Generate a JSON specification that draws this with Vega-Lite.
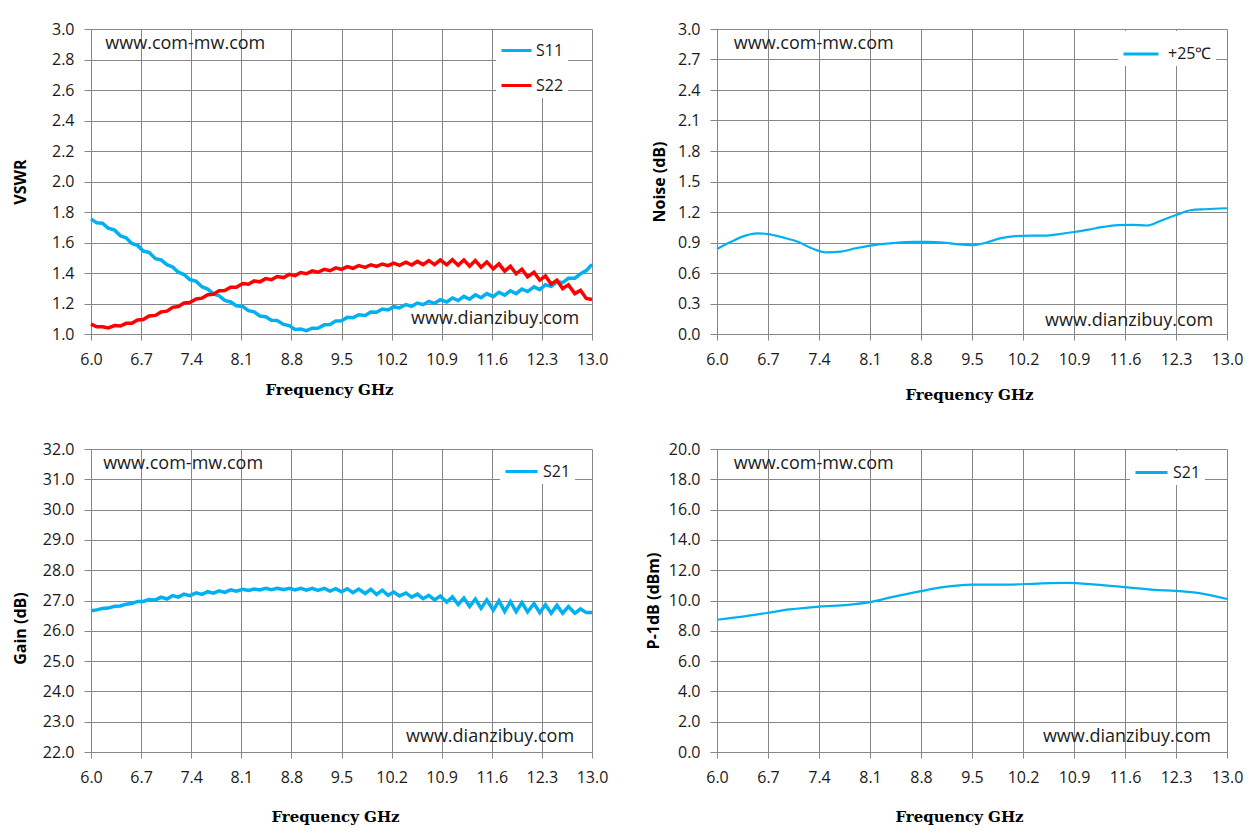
{
  "$schema": "https://vega.github.io/schema/vega-lite/v6.json",
  "background": "white",
  "padding": {"left": 12, "top": 21, "right": 10, "bottom": 10},
  "columns": 2,
  "bounds": "flush",
  "spacing": {"row": 115, "column": 125},
  "resolve": {"scale": {"color": "independent"}, "legend": {"color": "independent"}},
  "config": {
    "view": {"stroke": null},
    "axis": {
      "labelFont": "Open Sans",
      "labelFontSize": 16,
      "labelColor": "#1a1a1a",
      "labelFlush": false,
      "labelOverlap": false,
      "labelBound": false,
      "gridColor": "#878787",
      "gridOpacity": 1,
      "domainColor": "#878787",
      "tickColor": "#878787",
      "titleColor": "#000000",
      "titleBaseline": "middle"
    },
    "axisX": {"tickSize": 6, "labelPadding": 11, "titleFont": "DejaVu Serif", "titleFontWeight": "bold", "titleFontSize": 15},
    "axisY": {"tickSize": 7, "labelPadding": 10, "titleFont": "Open Sans", "titleFontWeight": "bold", "titleFontSize": 16},
    "legend": {
      "title": null,
      "orient": "none",
      "symbolType": "stroke",
      "symbolStrokeWidth": 3,
      "labelFont": "Open Sans",
      "labelFontSize": 16,
      "labelColor": "#1a1a1a",
      "padding": 4,
      "fillColor": "white"
    },
    "text": {"font": "Open Sans", "fontSize": 18, "color": "#1a1a1a", "baseline": "middle"}
  },
  "datasets": {
    "vswr": [
      {"freq": 6.00, "series": "S11", "value": 1.755}, {"freq": 6.08, "series": "S11", "value": 1.729},
      {"freq": 6.16, "series": "S11", "value": 1.726}, {"freq": 6.24, "series": "S11", "value": 1.694},
      {"freq": 6.33, "series": "S11", "value": 1.681}, {"freq": 6.41, "series": "S11", "value": 1.644},
      {"freq": 6.49, "series": "S11", "value": 1.631}, {"freq": 6.57, "series": "S11", "value": 1.594},
      {"freq": 6.65, "series": "S11", "value": 1.581}, {"freq": 6.73, "series": "S11", "value": 1.544},
      {"freq": 6.81, "series": "S11", "value": 1.536}, {"freq": 6.90, "series": "S11", "value": 1.494},
      {"freq": 6.98, "series": "S11", "value": 1.486}, {"freq": 7.06, "series": "S11", "value": 1.455},
      {"freq": 7.14, "series": "S11", "value": 1.440}, {"freq": 7.22, "series": "S11", "value": 1.405},
      {"freq": 7.30, "series": "S11", "value": 1.390}, {"freq": 7.38, "series": "S11", "value": 1.357},
      {"freq": 7.47, "series": "S11", "value": 1.345}, {"freq": 7.55, "series": "S11", "value": 1.310},
      {"freq": 7.63, "series": "S11", "value": 1.295}, {"freq": 7.71, "series": "S11", "value": 1.263},
      {"freq": 7.79, "series": "S11", "value": 1.250}, {"freq": 7.87, "series": "S11", "value": 1.220},
      {"freq": 7.95, "series": "S11", "value": 1.210}, {"freq": 8.03, "series": "S11", "value": 1.185},
      {"freq": 8.12, "series": "S11", "value": 1.180}, {"freq": 8.20, "series": "S11", "value": 1.153},
      {"freq": 8.28, "series": "S11", "value": 1.145}, {"freq": 8.36, "series": "S11", "value": 1.118},
      {"freq": 8.44, "series": "S11", "value": 1.113}, {"freq": 8.52, "series": "S11", "value": 1.090},
      {"freq": 8.60, "series": "S11", "value": 1.088}, {"freq": 8.69, "series": "S11", "value": 1.063},
      {"freq": 8.77, "series": "S11", "value": 1.055}, {"freq": 8.85, "series": "S11", "value": 1.030},
      {"freq": 8.93, "series": "S11", "value": 1.032}, {"freq": 9.01, "series": "S11", "value": 1.022},
      {"freq": 9.09, "series": "S11", "value": 1.038}, {"freq": 9.17, "series": "S11", "value": 1.038},
      {"freq": 9.26, "series": "S11", "value": 1.060}, {"freq": 9.34, "series": "S11", "value": 1.062},
      {"freq": 9.42, "series": "S11", "value": 1.086}, {"freq": 9.50, "series": "S11", "value": 1.087},
      {"freq": 9.58, "series": "S11", "value": 1.109}, {"freq": 9.66, "series": "S11", "value": 1.106},
      {"freq": 9.74, "series": "S11", "value": 1.126}, {"freq": 9.83, "series": "S11", "value": 1.122},
      {"freq": 9.91, "series": "S11", "value": 1.144}, {"freq": 9.99, "series": "S11", "value": 1.142},
      {"freq": 10.07, "series": "S11", "value": 1.164}, {"freq": 10.15, "series": "S11", "value": 1.158},
      {"freq": 10.23, "series": "S11", "value": 1.179}, {"freq": 10.31, "series": "S11", "value": 1.171},
      {"freq": 10.40, "series": "S11", "value": 1.193}, {"freq": 10.48, "series": "S11", "value": 1.182},
      {"freq": 10.56, "series": "S11", "value": 1.203}, {"freq": 10.64, "series": "S11", "value": 1.192},
      {"freq": 10.72, "series": "S11", "value": 1.214}, {"freq": 10.80, "series": "S11", "value": 1.201},
      {"freq": 10.88, "series": "S11", "value": 1.225}, {"freq": 10.97, "series": "S11", "value": 1.210},
      {"freq": 11.05, "series": "S11", "value": 1.236}, {"freq": 11.13, "series": "S11", "value": 1.219},
      {"freq": 11.21, "series": "S11", "value": 1.247}, {"freq": 11.29, "series": "S11", "value": 1.228},
      {"freq": 11.37, "series": "S11", "value": 1.257}, {"freq": 11.45, "series": "S11", "value": 1.238},
      {"freq": 11.53, "series": "S11", "value": 1.265}, {"freq": 11.62, "series": "S11", "value": 1.245},
      {"freq": 11.70, "series": "S11", "value": 1.274}, {"freq": 11.78, "series": "S11", "value": 1.255},
      {"freq": 11.86, "series": "S11", "value": 1.284}, {"freq": 11.94, "series": "S11", "value": 1.265},
      {"freq": 12.02, "series": "S11", "value": 1.295}, {"freq": 12.10, "series": "S11", "value": 1.278},
      {"freq": 12.19, "series": "S11", "value": 1.309}, {"freq": 12.27, "series": "S11", "value": 1.291},
      {"freq": 12.35, "series": "S11", "value": 1.323}, {"freq": 12.43, "series": "S11", "value": 1.312},
      {"freq": 12.51, "series": "S11", "value": 1.342}, {"freq": 12.59, "series": "S11", "value": 1.337},
      {"freq": 12.67, "series": "S11", "value": 1.365}, {"freq": 12.76, "series": "S11", "value": 1.366},
      {"freq": 12.84, "series": "S11", "value": 1.395}, {"freq": 12.92, "series": "S11", "value": 1.416},
      {"freq": 13.00, "series": "S11", "value": 1.457},
      {"freq": 6.00, "series": "S22", "value": 1.065}, {"freq": 6.08, "series": "S22", "value": 1.047},
      {"freq": 6.16, "series": "S22", "value": 1.048}, {"freq": 6.24, "series": "S22", "value": 1.040},
      {"freq": 6.33, "series": "S22", "value": 1.055}, {"freq": 6.41, "series": "S22", "value": 1.052},
      {"freq": 6.49, "series": "S22", "value": 1.070}, {"freq": 6.57, "series": "S22", "value": 1.070},
      {"freq": 6.65, "series": "S22", "value": 1.092}, {"freq": 6.73, "series": "S22", "value": 1.095},
      {"freq": 6.81, "series": "S22", "value": 1.118}, {"freq": 6.90, "series": "S22", "value": 1.122},
      {"freq": 6.98, "series": "S22", "value": 1.145}, {"freq": 7.06, "series": "S22", "value": 1.150},
      {"freq": 7.14, "series": "S22", "value": 1.175}, {"freq": 7.22, "series": "S22", "value": 1.180},
      {"freq": 7.30, "series": "S22", "value": 1.203}, {"freq": 7.38, "series": "S22", "value": 1.207},
      {"freq": 7.47, "series": "S22", "value": 1.230}, {"freq": 7.55, "series": "S22", "value": 1.235},
      {"freq": 7.63, "series": "S22", "value": 1.258}, {"freq": 7.71, "series": "S22", "value": 1.260},
      {"freq": 7.79, "series": "S22", "value": 1.283}, {"freq": 7.87, "series": "S22", "value": 1.285},
      {"freq": 7.95, "series": "S22", "value": 1.307}, {"freq": 8.03, "series": "S22", "value": 1.306},
      {"freq": 8.12, "series": "S22", "value": 1.331}, {"freq": 8.20, "series": "S22", "value": 1.326},
      {"freq": 8.28, "series": "S22", "value": 1.348}, {"freq": 8.36, "series": "S22", "value": 1.342},
      {"freq": 8.44, "series": "S22", "value": 1.363}, {"freq": 8.52, "series": "S22", "value": 1.356},
      {"freq": 8.60, "series": "S22", "value": 1.377}, {"freq": 8.69, "series": "S22", "value": 1.370},
      {"freq": 8.77, "series": "S22", "value": 1.391}, {"freq": 8.85, "series": "S22", "value": 1.383},
      {"freq": 8.93, "series": "S22", "value": 1.403}, {"freq": 9.01, "series": "S22", "value": 1.395},
      {"freq": 9.09, "series": "S22", "value": 1.414}, {"freq": 9.17, "series": "S22", "value": 1.405},
      {"freq": 9.26, "series": "S22", "value": 1.424}, {"freq": 9.34, "series": "S22", "value": 1.415},
      {"freq": 9.42, "series": "S22", "value": 1.434}, {"freq": 9.50, "series": "S22", "value": 1.424},
      {"freq": 9.58, "series": "S22", "value": 1.442}, {"freq": 9.66, "series": "S22", "value": 1.431},
      {"freq": 9.74, "series": "S22", "value": 1.448}, {"freq": 9.83, "series": "S22", "value": 1.437},
      {"freq": 9.91, "series": "S22", "value": 1.454}, {"freq": 9.99, "series": "S22", "value": 1.443},
      {"freq": 10.07, "series": "S22", "value": 1.459}, {"freq": 10.15, "series": "S22", "value": 1.448},
      {"freq": 10.23, "series": "S22", "value": 1.465}, {"freq": 10.31, "series": "S22", "value": 1.450},
      {"freq": 10.40, "series": "S22", "value": 1.471}, {"freq": 10.48, "series": "S22", "value": 1.452},
      {"freq": 10.56, "series": "S22", "value": 1.476}, {"freq": 10.64, "series": "S22", "value": 1.455},
      {"freq": 10.72, "series": "S22", "value": 1.481}, {"freq": 10.80, "series": "S22", "value": 1.455},
      {"freq": 10.88, "series": "S22", "value": 1.485}, {"freq": 10.97, "series": "S22", "value": 1.454},
      {"freq": 11.05, "series": "S22", "value": 1.487}, {"freq": 11.13, "series": "S22", "value": 1.451},
      {"freq": 11.21, "series": "S22", "value": 1.486}, {"freq": 11.29, "series": "S22", "value": 1.445},
      {"freq": 11.37, "series": "S22", "value": 1.482}, {"freq": 11.45, "series": "S22", "value": 1.438},
      {"freq": 11.53, "series": "S22", "value": 1.473}, {"freq": 11.62, "series": "S22", "value": 1.427},
      {"freq": 11.70, "series": "S22", "value": 1.460}, {"freq": 11.78, "series": "S22", "value": 1.412},
      {"freq": 11.86, "series": "S22", "value": 1.444}, {"freq": 11.94, "series": "S22", "value": 1.395},
      {"freq": 12.02, "series": "S22", "value": 1.425}, {"freq": 12.10, "series": "S22", "value": 1.375},
      {"freq": 12.19, "series": "S22", "value": 1.405}, {"freq": 12.27, "series": "S22", "value": 1.353},
      {"freq": 12.35, "series": "S22", "value": 1.380}, {"freq": 12.43, "series": "S22", "value": 1.327},
      {"freq": 12.51, "series": "S22", "value": 1.353}, {"freq": 12.59, "series": "S22", "value": 1.298},
      {"freq": 12.67, "series": "S22", "value": 1.322}, {"freq": 12.76, "series": "S22", "value": 1.265},
      {"freq": 12.84, "series": "S22", "value": 1.287}, {"freq": 12.92, "series": "S22", "value": 1.233},
      {"freq": 13.00, "series": "S22", "value": 1.226}
    ],
    "noise": [
      {"freq": 6.0, "series": "+25℃", "value": 0.837}, {"freq": 6.2, "series": "+25℃", "value": 0.91},
      {"freq": 6.4, "series": "+25℃", "value": 0.97}, {"freq": 6.55, "series": "+25℃", "value": 0.99},
      {"freq": 6.7, "series": "+25℃", "value": 0.983}, {"freq": 6.9, "series": "+25℃", "value": 0.95},
      {"freq": 7.1, "series": "+25℃", "value": 0.91}, {"freq": 7.3, "series": "+25℃", "value": 0.843},
      {"freq": 7.5, "series": "+25℃", "value": 0.803}, {"freq": 7.7, "series": "+25℃", "value": 0.81},
      {"freq": 7.9, "series": "+25℃", "value": 0.843}, {"freq": 8.1, "series": "+25℃", "value": 0.87},
      {"freq": 8.4, "series": "+25℃", "value": 0.893}, {"freq": 8.7, "series": "+25℃", "value": 0.907},
      {"freq": 8.9, "series": "+25℃", "value": 0.907}, {"freq": 9.1, "series": "+25℃", "value": 0.9},
      {"freq": 9.3, "series": "+25℃", "value": 0.883}, {"freq": 9.5, "series": "+25℃", "value": 0.873},
      {"freq": 9.7, "series": "+25℃", "value": 0.9}, {"freq": 9.9, "series": "+25℃", "value": 0.943},
      {"freq": 10.1, "series": "+25℃", "value": 0.963}, {"freq": 10.3, "series": "+25℃", "value": 0.967},
      {"freq": 10.5, "series": "+25℃", "value": 0.967}, {"freq": 10.7, "series": "+25℃", "value": 0.983},
      {"freq": 10.9, "series": "+25℃", "value": 1.003}, {"freq": 11.1, "series": "+25℃", "value": 1.027},
      {"freq": 11.3, "series": "+25℃", "value": 1.053}, {"freq": 11.5, "series": "+25℃", "value": 1.07},
      {"freq": 11.7, "series": "+25℃", "value": 1.073}, {"freq": 11.9, "series": "+25℃", "value": 1.067},
      {"freq": 12.1, "series": "+25℃", "value": 1.117}, {"freq": 12.3, "series": "+25℃", "value": 1.17},
      {"freq": 12.5, "series": "+25℃", "value": 1.217}, {"freq": 12.7, "series": "+25℃", "value": 1.227},
      {"freq": 13.0, "series": "+25℃", "value": 1.237}
    ],
    "gain": [
      {"freq": 6.00, "series": "S21", "value": 26.66}, {"freq": 6.08, "series": "S21", "value": 26.69},
      {"freq": 6.16, "series": "S21", "value": 26.74}, {"freq": 6.24, "series": "S21", "value": 26.75},
      {"freq": 6.33, "series": "S21", "value": 26.81}, {"freq": 6.41, "series": "S21", "value": 26.82},
      {"freq": 6.49, "series": "S21", "value": 26.88}, {"freq": 6.57, "series": "S21", "value": 26.90},
      {"freq": 6.65, "series": "S21", "value": 26.97}, {"freq": 6.73, "series": "S21", "value": 26.97},
      {"freq": 6.81, "series": "S21", "value": 27.03}, {"freq": 6.90, "series": "S21", "value": 27.02},
      {"freq": 6.98, "series": "S21", "value": 27.11}, {"freq": 7.06, "series": "S21", "value": 27.05},
      {"freq": 7.14, "series": "S21", "value": 27.16}, {"freq": 7.22, "series": "S21", "value": 27.11},
      {"freq": 7.30, "series": "S21", "value": 27.21}, {"freq": 7.38, "series": "S21", "value": 27.16},
      {"freq": 7.47, "series": "S21", "value": 27.25}, {"freq": 7.55, "series": "S21", "value": 27.20},
      {"freq": 7.63, "series": "S21", "value": 27.29}, {"freq": 7.71, "series": "S21", "value": 27.24},
      {"freq": 7.79, "series": "S21", "value": 27.32}, {"freq": 7.87, "series": "S21", "value": 27.27},
      {"freq": 7.95, "series": "S21", "value": 27.35}, {"freq": 8.03, "series": "S21", "value": 27.31},
      {"freq": 8.12, "series": "S21", "value": 27.37}, {"freq": 8.20, "series": "S21", "value": 27.33},
      {"freq": 8.28, "series": "S21", "value": 27.38}, {"freq": 8.36, "series": "S21", "value": 27.35},
      {"freq": 8.44, "series": "S21", "value": 27.40}, {"freq": 8.52, "series": "S21", "value": 27.36},
      {"freq": 8.60, "series": "S21", "value": 27.40}, {"freq": 8.69, "series": "S21", "value": 27.36},
      {"freq": 8.77, "series": "S21", "value": 27.40}, {"freq": 8.85, "series": "S21", "value": 27.35},
      {"freq": 8.93, "series": "S21", "value": 27.40}, {"freq": 9.01, "series": "S21", "value": 27.34},
      {"freq": 9.09, "series": "S21", "value": 27.40}, {"freq": 9.17, "series": "S21", "value": 27.33},
      {"freq": 9.26, "series": "S21", "value": 27.40}, {"freq": 9.34, "series": "S21", "value": 27.31},
      {"freq": 9.42, "series": "S21", "value": 27.39}, {"freq": 9.50, "series": "S21", "value": 27.29},
      {"freq": 9.58, "series": "S21", "value": 27.39}, {"freq": 9.66, "series": "S21", "value": 27.26},
      {"freq": 9.74, "series": "S21", "value": 27.38}, {"freq": 9.83, "series": "S21", "value": 27.23},
      {"freq": 9.91, "series": "S21", "value": 27.37}, {"freq": 9.99, "series": "S21", "value": 27.20},
      {"freq": 10.07, "series": "S21", "value": 27.34}, {"freq": 10.15, "series": "S21", "value": 27.17},
      {"freq": 10.23, "series": "S21", "value": 27.28}, {"freq": 10.31, "series": "S21", "value": 27.15},
      {"freq": 10.40, "series": "S21", "value": 27.25}, {"freq": 10.48, "series": "S21", "value": 27.11},
      {"freq": 10.56, "series": "S21", "value": 27.21}, {"freq": 10.64, "series": "S21", "value": 27.06},
      {"freq": 10.72, "series": "S21", "value": 27.17}, {"freq": 10.80, "series": "S21", "value": 27.02},
      {"freq": 10.88, "series": "S21", "value": 27.15}, {"freq": 10.97, "series": "S21", "value": 26.95},
      {"freq": 11.05, "series": "S21", "value": 27.12}, {"freq": 11.13, "series": "S21", "value": 26.87},
      {"freq": 11.21, "series": "S21", "value": 27.08}, {"freq": 11.29, "series": "S21", "value": 26.80},
      {"freq": 11.37, "series": "S21", "value": 27.05}, {"freq": 11.45, "series": "S21", "value": 26.74},
      {"freq": 11.53, "series": "S21", "value": 27.02}, {"freq": 11.62, "series": "S21", "value": 26.68},
      {"freq": 11.70, "series": "S21", "value": 26.99}, {"freq": 11.78, "series": "S21", "value": 26.64},
      {"freq": 11.86, "series": "S21", "value": 26.96}, {"freq": 11.94, "series": "S21", "value": 26.63},
      {"freq": 12.02, "series": "S21", "value": 26.93}, {"freq": 12.10, "series": "S21", "value": 26.62},
      {"freq": 12.19, "series": "S21", "value": 26.90}, {"freq": 12.27, "series": "S21", "value": 26.60},
      {"freq": 12.35, "series": "S21", "value": 26.86}, {"freq": 12.43, "series": "S21", "value": 26.58},
      {"freq": 12.51, "series": "S21", "value": 26.84}, {"freq": 12.59, "series": "S21", "value": 26.58},
      {"freq": 12.67, "series": "S21", "value": 26.80}, {"freq": 12.76, "series": "S21", "value": 26.58},
      {"freq": 12.84, "series": "S21", "value": 26.72}, {"freq": 12.92, "series": "S21", "value": 26.60},
      {"freq": 13.00, "series": "S21", "value": 26.60}
    ],
    "p1db": [
      {"freq": 6.0, "series": "S21", "value": 8.73}, {"freq": 6.4, "series": "S21", "value": 8.97},
      {"freq": 6.7, "series": "S21", "value": 9.19}, {"freq": 7.0, "series": "S21", "value": 9.41},
      {"freq": 7.4, "series": "S21", "value": 9.6}, {"freq": 7.8, "series": "S21", "value": 9.71},
      {"freq": 8.1, "series": "S21", "value": 9.89}, {"freq": 8.4, "series": "S21", "value": 10.22},
      {"freq": 8.8, "series": "S21", "value": 10.62}, {"freq": 9.1, "series": "S21", "value": 10.88},
      {"freq": 9.5, "series": "S21", "value": 11.05}, {"freq": 10.0, "series": "S21", "value": 11.05},
      {"freq": 10.4, "series": "S21", "value": 11.12}, {"freq": 10.8, "series": "S21", "value": 11.16},
      {"freq": 11.2, "series": "S21", "value": 11.05}, {"freq": 11.6, "series": "S21", "value": 10.88},
      {"freq": 12.0, "series": "S21", "value": 10.7}, {"freq": 12.3, "series": "S21", "value": 10.64},
      {"freq": 12.6, "series": "S21", "value": 10.5}, {"freq": 13.0, "series": "S21", "value": 10.1}
    ]
  },
  "concat": [
    {
      "width": 501,
      "height": 305,
      "layer": [
        {
          "data": {"name": "vswr"},
          "mark": {"type": "line", "strokeWidth": 3.5},
          "encoding": {
            "x": {"field": "freq", "type": "quantitative",
                  "scale": {"domain": [6, 13], "nice": false, "zero": false},
                  "axis": {"title": "Frequency GHz", "values": [6, 6.7, 7.4, 8.1, 8.8, 9.5, 10.2, 10.9, 11.6, 12.3, 13], "format": ".1f", "titleX": 238, "titleY": 55}},
            "y": {"field": "value", "type": "quantitative",
                  "scale": {"domain": [1, 3], "nice": false, "zero": false},
                  "axis": {"title": "VSWR", "values": [1, 1.2, 1.4, 1.6, 1.8, 2, 2.2, 2.4, 2.6, 2.8, 3], "format": ".1f", "titleX": -71}},
            "color": {"field": "series", "type": "nominal",
                      "scale": {"domain": ["S11", "S22"], "range": ["#00B0F0", "#FF0000"]},
                      "legend": {"legendX": 405, "legendY": 1, "symbolSize": 900, "labelOffset": 3, "rowPadding": 10}}
          }
        },
        {"data": {"values": [{}]}, "mark": {"type": "text", "text": "www.com-mw.com", "align": "left"},
         "encoding": {"x": {"datum": 6.2},
                      "y": {"datum": 2.9, "axis": {"title": "VSWR", "values": [1, 1.2, 1.4, 1.6, 1.8, 2, 2.2, 2.4, 2.6, 2.8, 3], "format": ".1f", "titleX": -71}}}},
        {"data": {"values": [{}]}, "mark": {"type": "text", "text": "www.dianzibuy.com", "align": "right"},
         "encoding": {"x": {"datum": 12.82},
                      "y": {"datum": 1.1, "axis": {"title": "VSWR", "values": [1, 1.2, 1.4, 1.6, 1.8, 2, 2.2, 2.4, 2.6, 2.8, 3], "format": ".1f", "titleX": -71}}}}
      ]
    },
    {
      "width": 510,
      "height": 305,
      "layer": [
        {
          "data": {"name": "noise"},
          "mark": {"type": "line", "strokeWidth": 2.2, "interpolate": "monotone"},
          "encoding": {
            "x": {"field": "freq", "type": "quantitative",
                  "scale": {"domain": [6, 13], "nice": false, "zero": false},
                  "axis": {"title": "Frequency GHz", "values": [6, 6.7, 7.4, 8.1, 8.8, 9.5, 10.2, 10.9, 11.6, 12.3, 13], "format": ".1f", "titleX": 252, "titleY": 60}},
            "y": {"field": "value", "type": "quantitative",
                  "scale": {"domain": [0, 3], "nice": false, "zero": false},
                  "axis": {"title": "Noise (dB)", "values": [0, 0.3, 0.6, 0.9, 1.2, 1.5, 1.8, 2.1, 2.4, 2.7, 3], "format": ".1f", "titleX": -58}},
            "color": {"field": "series", "type": "nominal",
                      "scale": {"domain": ["+25℃"], "range": ["#00B0F0"]},
                      "legend": {"legendX": 401, "legendY": 2, "symbolSize": 1225, "labelOffset": 8}}
          }
        },
        {"data": {"values": [{}]}, "mark": {"type": "text", "text": "www.com-mw.com", "align": "left"},
         "encoding": {"x": {"datum": 6.23},
                      "y": {"datum": 2.85, "axis": {"title": "Noise (dB)", "values": [0, 0.3, 0.6, 0.9, 1.2, 1.5, 1.8, 2.1, 2.4, 2.7, 3], "format": ".1f", "titleX": -58}}}},
        {"data": {"values": [{}]}, "mark": {"type": "text", "text": "www.dianzibuy.com", "align": "right"},
         "encoding": {"x": {"datum": 12.81},
                      "y": {"datum": 0.13, "axis": {"title": "Noise (dB)", "values": [0, 0.3, 0.6, 0.9, 1.2, 1.5, 1.8, 2.1, 2.4, 2.7, 3], "format": ".1f", "titleX": -58}}}}
      ]
    },
    {
      "width": 501,
      "height": 303,
      "layer": [
        {
          "data": {"name": "gain"},
          "mark": {"type": "line", "strokeWidth": 3.5},
          "encoding": {
            "x": {"field": "freq", "type": "quantitative",
                  "scale": {"domain": [6, 13], "nice": false, "zero": false},
                  "axis": {"title": "Frequency GHz", "values": [6, 6.7, 7.4, 8.1, 8.8, 9.5, 10.2, 10.9, 11.6, 12.3, 13], "format": ".1f", "titleX": 244, "titleY": 64}},
            "y": {"field": "value", "type": "quantitative",
                  "scale": {"domain": [22, 32], "nice": false, "zero": false},
                  "axis": {"title": "Gain (dB)", "values": [22, 23, 24, 25, 26, 27, 28, 29, 30, 31, 32], "format": ".1f", "titleX": -71, "titleY": 179}},
            "color": {"field": "series", "type": "nominal",
                      "scale": {"domain": ["S21"], "range": ["#00B0F0"]},
                      "legend": {"legendX": 409, "legendY": 1, "symbolSize": 1024, "labelOffset": 4}}
          }
        },
        {"data": {"values": [{}]}, "mark": {"type": "text", "text": "www.com-mw.com", "align": "left"},
         "encoding": {"x": {"datum": 6.17},
                      "y": {"datum": 31.5, "axis": {"title": "Gain (dB)", "values": [22, 23, 24, 25, 26, 27, 28, 29, 30, 31, 32], "format": ".1f", "titleX": -71, "titleY": 179}}}},
        {"data": {"values": [{}]}, "mark": {"type": "text", "text": "www.dianzibuy.com", "align": "right"},
         "encoding": {"x": {"datum": 12.75},
                      "y": {"datum": 22.5, "axis": {"title": "Gain (dB)", "values": [22, 23, 24, 25, 26, 27, 28, 29, 30, 31, 32], "format": ".1f", "titleX": -71, "titleY": 179}}}}
      ]
    },
    {
      "width": 510,
      "height": 303,
      "layer": [
        {
          "data": {"name": "p1db"},
          "mark": {"type": "line", "strokeWidth": 2.2, "interpolate": "monotone"},
          "encoding": {
            "x": {"field": "freq", "type": "quantitative",
                  "scale": {"domain": [6, 13], "nice": false, "zero": false},
                  "axis": {"title": "Frequency GHz", "values": [6, 6.7, 7.4, 8.1, 8.8, 9.5, 10.2, 10.9, 11.6, 12.3, 13], "format": ".1f", "titleX": 242, "titleY": 64}},
            "y": {"field": "value", "type": "quantitative",
                  "scale": {"domain": [0, 20], "nice": false, "zero": false},
                  "axis": {"title": "P-1dB (dBm)", "values": [0, 2, 4, 6, 8, 10, 12, 14, 16, 18, 20], "format": ".1f", "titleX": -64}},
            "color": {"field": "series", "type": "nominal",
                      "scale": {"domain": ["S21"], "range": ["#00B0F0"]},
                      "legend": {"legendX": 413, "legendY": 2, "symbolSize": 1024, "labelOffset": 4}}
          }
        },
        {"data": {"values": [{}]}, "mark": {"type": "text", "text": "www.com-mw.com", "align": "left"},
         "encoding": {"x": {"datum": 6.23},
                      "y": {"datum": 19.0, "axis": {"title": "P-1dB (dBm)", "values": [0, 2, 4, 6, 8, 10, 12, 14, 16, 18, 20], "format": ".1f", "titleX": -64}}}},
        {"data": {"values": [{}]}, "mark": {"type": "text", "text": "www.dianzibuy.com", "align": "right"},
         "encoding": {"x": {"datum": 12.78},
                      "y": {"datum": 1.0, "axis": {"title": "P-1dB (dBm)", "values": [0, 2, 4, 6, 8, 10, 12, 14, 16, 18, 20], "format": ".1f", "titleX": -64}}}}
      ]
    }
  ]
}
